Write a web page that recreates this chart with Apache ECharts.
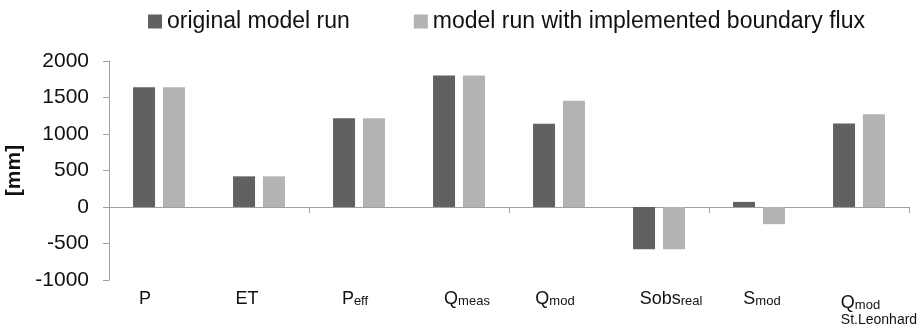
<!DOCTYPE html>
<html>
<head>
<meta charset="utf-8">
<script src="https://cdn.jsdelivr.net/npm/echarts@6/dist/echarts.min.js"></script>
<style>
html,body{margin:0;padding:0;background:#fff;}
#chart{width:918px;height:326px;}
</style>
</head>
<body>
<div id="chart"></div>
<script>
var categories = ['P', 'ET', 'Peff', 'Qmeas', 'Qmod', 'Sobsreal', 'Smod', 'Qmod St.Leonhard'];
var categoryLabels = ['P', 'ET', 'P{sub|eff}', 'Q{sub|meas}', 'Q{sub|mod}', 'Sobs{sub|real}', 'S{sub|mod}', 'Q{sub|mod}{fill|}\n{st|St.Leonhard}'];
var seriesNames = ['original model run', 'model run with implemented boundary flux'];
var originalRun = [1640, 420, 1215, 1800, 1140, -580, 70, 1145];
var boundaryRun = [1640, 420, 1215, 1800, 1455, -580, -235, 1270];
var yTicks = [-1000, -500, 0, 500, 1000, 1500, 2000];

// small horizontal / vertical nudges of the labels, as in the original
var labelShift = [-14, -12, -4, 8, -4, 12, 3, 20];
var labelDrop = [0, 0, 0, 0, 0, 0, 0, 4];

var labelData = categories.map(function (c, i) {
  var s = labelShift[i];
  var pad = s < 0 ? [labelDrop[i], -2 * s, 0, 0] : [labelDrop[i], 0, 0, 2 * s];
  return { value: c, textStyle: { padding: pad } };
});

var chart = echarts.init(document.getElementById('chart'));
var font = 'Liberation Sans, Arial, sans-serif';
var option = {
  animation: false,
  textStyle: { fontFamily: font },
  legend: {
    left: 143,
    top: 5,
    icon: 'rect',
    itemWidth: 14,
    itemHeight: 14,
    itemGap: 64,
    textStyle: { fontSize: 23, color: '#111', fontFamily: font },
    data: seriesNames
  },
  grid: { left: 109, right: 9, top: 61, bottom: 46, containLabel: false, outerBoundsMode: 'none' },
  xAxis: [
    {
      type: 'category',
      data: categories,
      position: 'bottom',
      axisLine: { onZero: true, lineStyle: { color: '#a0a0a0', width: 1 } },
      axisTick: { show: true, length: 6, lineStyle: { color: '#a0a0a0' } },
      axisLabel: { show: false },
      splitLine: { show: false }
    },
    {
      type: 'category',
      data: labelData,
      position: 'bottom',
      axisLine: { show: false, onZero: false },
      axisTick: { show: false },
      splitLine: { show: false },
      axisLabel: {
        show: true,
        interval: 0,
        margin: 10,
        color: '#111',
        fontSize: 18,
        fontFamily: font,
        formatter: function (v, i) { return categoryLabels[i]; },
        rich: {
          sub: { fontSize: 13, color: '#111', fontFamily: font, verticalAlign: 'bottom' },
          fill: { width: 37, fontSize: 13 },
          st: { fontSize: 14, color: '#111', fontFamily: font, lineHeight: 16 }
        }
      }
    }
  ],
  yAxis: {
    type: 'value',
    min: -1000,
    max: 2000,
    interval: 500,
    name: '[mm]',
    nameLocation: 'middle',
    nameGap: 71,
    nameRotate: 90,
    nameTextStyle: { fontSize: 21, fontWeight: 'bold', color: '#111', fontFamily: font },
    axisLine: { show: true, lineStyle: { color: '#a0a0a0', width: 1 } },
    axisTick: { show: true, length: 6, lineStyle: { color: '#a0a0a0' } },
    axisLabel: {
      fontSize: 21,
      color: '#111',
      margin: 20,
      fontFamily: font,
      formatter: function (v) { return yTicks.indexOf(v) >= 0 ? String(v) : ''; }
    },
    splitLine: { show: false }
  },
  series: [
    {
      name: seriesNames[0],
      type: 'bar',
      xAxisIndex: 0,
      barWidth: 22,
      barGap: '36%',
      itemStyle: { color: '#616161' },
      data: originalRun
    },
    {
      name: seriesNames[1],
      type: 'bar',
      xAxisIndex: 0,
      barWidth: 22,
      barGap: '36%',
      itemStyle: { color: '#b3b3b3' },
      data: boundaryRun
    }
  ]
};
chart.setOption(option);
</script>
</body>
</html>
